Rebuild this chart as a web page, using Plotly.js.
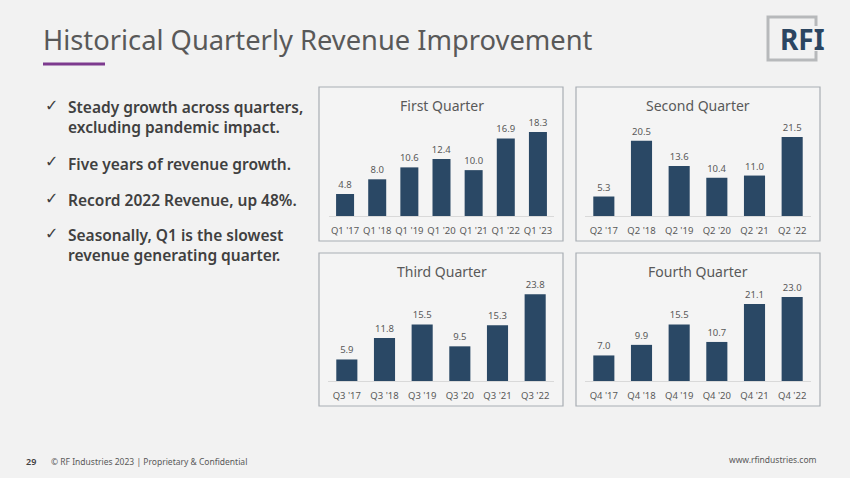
<!DOCTYPE html>
<html>
<head>
<meta charset="utf-8">
<script src="https://cdn.plot.ly/plotly-3.0.1.min.js"></script>
<style>
html,body{margin:0;padding:0;background:#f2f2f2;}
#chart{width:850px;height:478px;}
</style>
</head>
<body>
<div id="chart"></div>
<script>
// ---- data ----
const q1Labels = ["Q1 '17","Q1 '18","Q1 '19","Q1 '20","Q1 '21","Q1 '22","Q1 '23"];
const q1Values = [4.8, 8.0, 10.6, 12.4, 10.0, 16.9, 18.3];
const q2Labels = ["Q2 '17","Q2 '18","Q2 '19","Q2 '20","Q2 '21","Q2 '22"];
const q2Values = [5.3, 20.5, 13.6, 10.4, 11.0, 21.5];
const q3Labels = ["Q3 '17","Q3 '18","Q3 '19","Q3 '20","Q3 '21","Q3 '22"];
const q3Values = [5.9, 11.8, 15.5, 9.5, 15.3, 23.8];
const q4Labels = ["Q4 '17","Q4 '18","Q4 '19","Q4 '20","Q4 '21","Q4 '22"];
const q4Values = [7.0, 9.9, 15.5, 10.7, 21.1, 23.0];
const panelTitles = ["First Quarter","Second Quarter","Third Quarter","Fourth Quarter"];
const bullets = [
  "Steady growth across quarters,<br>excluding pandemic impact.",
  "Five years of revenue growth.",
  "Record 2022 Revenue, up 48%.",
  "Seasonally, Q1 is the slowest<br>revenue generating quarter."
];
const slideTitle = "Historical Quarterly Revenue Improvement";
const footerLeft = "© RF Industries 2023 | Proprietary &amp; Confidential";
const pageNum = "29";
const footerRight = "www.rfindustries.com";

// ---- layout helpers (pixel -> paper) ----
const W = 850, H = 478;
const px = x => x / W;
const py = y => 1 - y / H;

const BAR = '#2a4865';
const GREY = '#595959';
const FONT = 'Noto Sans, Open Sans, sans-serif';

const panels = [
  {labels:q1Labels, values:q1Values, box:[319,87,563,241], xd:[329,554], base:216, top:116, yr:21.8, tx:442, ty:105},
  {labels:q2Labels, values:q2Values, box:[576,87,820,241], xd:[585,811], base:216, top:116, yr:27.2, tx:698, ty:105},
  {labels:q3Labels, values:q3Values, box:[319,253,563,406], xd:[328,554], base:381, top:281, yr:27.4, tx:442, ty:271},
  {labels:q4Labels, values:q4Values, box:[576,253,820,406], xd:[585,811], base:381, top:281, yr:27.4, tx:698, ty:271}
];

const data = [];
const layout = {
  width: W, height: H,
  margin: {l:0, r:0, t:0, b:0},
  paper_bgcolor: '#f2f2f2',
  plot_bgcolor: 'rgba(0,0,0,0)',
  showlegend: false,
  bargap: 0.44,
  font: {family: FONT, color: GREY},
  shapes: [],
  annotations: []
};

panels.forEach((p, i) => {
  const n = i === 0 ? '' : String(i + 1);
  data.push({
    type: 'bar',
    x: p.labels,
    y: p.values,
    xaxis: 'x' + n,
    yaxis: 'y' + n,
    marker: {color: BAR},
    texttemplate: '%{y:.1f}',
    textposition: 'outside',
    constraintext: 'none',
    textfont: {size: 9.5, color: GREY, family: FONT},
    cliponaxis: false,
    hoverinfo: 'skip'
  });
  layout['xaxis' + n] = {
    domain: [px(p.xd[0]), px(p.xd[1])],
    anchor: 'y' + n,
    type: 'category',
    showline: true, linecolor: '#d9d9d9', linewidth: 1,
    showgrid: false, zeroline: false,
    ticks: '', ticklabelstandoff: 6,
    tickfont: {size: 9.5, color: GREY, family: FONT},
    fixedrange: true
  };
  layout['yaxis' + n] = {
    domain: [py(p.base), py(p.top)],
    anchor: 'x' + n,
    range: [0, p.yr],
    visible: false,
    fixedrange: true
  };
  layout.shapes.push({
    type: 'rect', xref: 'paper', yref: 'paper', layer: 'below',
    x0: px(p.box[0]), x1: px(p.box[2]), y0: py(p.box[3]), y1: py(p.box[1]),
    line: {color: '#a8adb3', width: 1.2}, fillcolor: '#f4f4f4'
  });
  layout.annotations.push({
    xref: 'paper', yref: 'paper', x: px(p.tx), y: py(p.ty),
    xanchor: 'center', yanchor: 'middle', showarrow: false,
    text: panelTitles[i], font: {size: 14, color: GREY, family: FONT}
  });
});

// slide title and underline
layout.annotations.push({
  xref:'paper', yref:'paper', x: px(41), y: py(39), xanchor:'left', yanchor:'middle',
  showarrow:false, text: slideTitle, font:{size: 27.3, color: GREY, family: FONT}
});
layout.shapes.push({
  type:'line', xref:'paper', yref:'paper', x0:px(43), x1:px(105), y0:py(64), y1:py(64),
  line:{color:'#7d3a8e', width:3}
});

// logo
const logoL = 768, logoR = 816, logoT = 17, logoB = 60;
layout.shapes.push({
  type:'path', xref:'paper', yref:'paper',
  path: `M ${px(logoR)} ${py(logoT+9)} L ${px(logoR)} ${py(logoT)} L ${px(logoL)} ${py(logoT)} L ${px(logoL)} ${py(logoB)} L ${px(logoR)} ${py(logoB)} L ${px(logoR)} ${py(logoB-9)}`,
  line:{color:'#b7b9bb', width:3}
});
layout.annotations.push({
  xref:'paper', yref:'paper', x: px(802), y: py(39), xanchor:'center', yanchor:'middle',
  showarrow:false, text:'<b>RFI</b>', font:{size: 28, color:'#2b4561', family: FONT}
});

// bullets
const bulletY = [105, 162, 198, 233];
bullets.forEach((b, i) => {
  layout.annotations.push({
    xref:'paper', yref:'paper', x: px(43), y: py(bulletY[i]), xanchor:'left', yanchor:'middle',
    showarrow:false, text:'✓', font:{size: 16, color:'#404040', family:'DejaVu Sans'}
  });
  layout.annotations.push({
    xref:'paper', yref:'paper', x: px(66), y: py(bulletY[i] - 11), xanchor:'left', yanchor:'top',
    align:'left', showarrow:false, text: b,
    font:{size: 15.5, color:'#404040', family: FONT, weight: 600}
  });
});

// footer
layout.annotations.push({
  xref:'paper', yref:'paper', x: px(24), y: py(461), xanchor:'left', yanchor:'middle',
  showarrow:false, text: pageNum, font:{size: 9, color:'#404040', family: FONT, weight: 600}
});
layout.annotations.push({
  xref:'paper', yref:'paper', x: px(49), y: py(461), xanchor:'left', yanchor:'middle',
  showarrow:false, text: footerLeft, font:{size: 8.5, color: GREY, family: FONT}
});
layout.annotations.push({
  xref:'paper', yref:'paper', x: px(819), y: py(459), xanchor:'right', yanchor:'middle',
  showarrow:false, text: footerRight, font:{size: 8.5, color: GREY, family: FONT}
});

Plotly.newPlot('chart', data, layout, {displayModeBar:false, staticPlot:true});
</script>
</body>
</html>
